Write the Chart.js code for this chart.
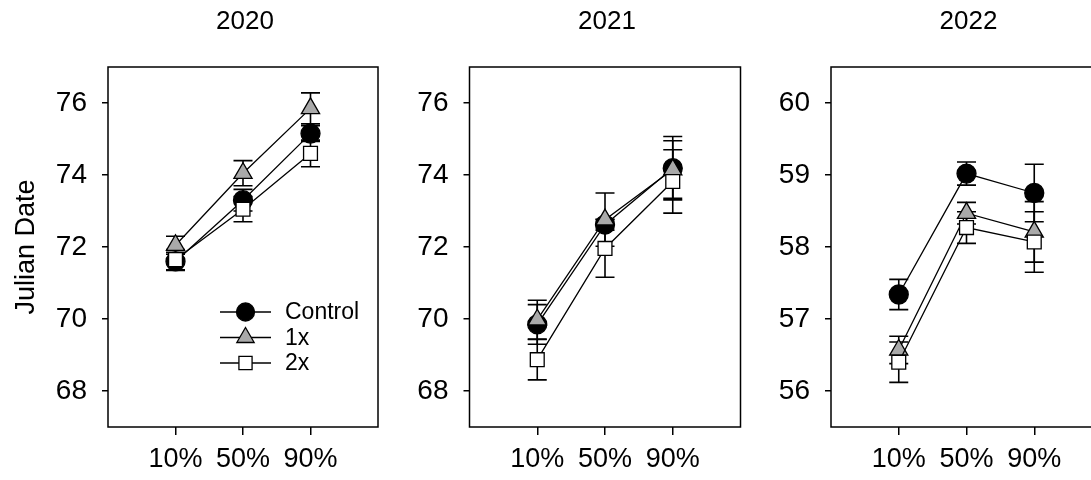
<!DOCTYPE html>
<html><head><meta charset="utf-8">
<script src="https://cdn.jsdelivr.net/npm/chart.js@4.4.1/dist/chart.umd.min.js"></script>
<style>
html,body{margin:0;padding:0;background:#fff;overflow:hidden;width:1091px;height:480px;position:relative}
canvas{position:absolute;left:0;top:0}
</style></head><body>
<canvas id="c1" width="1120" height="480"></canvas>
<canvas id="c2" width="1120" height="480"></canvas>
<canvas id="c3" width="1120" height="480"></canvas>
<script>
// ---------------- data ----------------
const categories = ['10%', '50%', '90%'];
const seriesNames = ['Control', '1x', '2x'];
const years = ['2020', '2021', '2022'];
const yAxisTitle = 'Julian Date';

const ticks2020 = [68, 70, 72, 74, 76];
const ticks2021 = [68, 70, 72, 74, 76];
const ticks2022 = [56, 57, 58, 59, 60];

const control2020 = [71.60, 73.30, 75.15];
const control2020Err = [0.25, 0.30, 0.22];
const onex2020 = [72.05, 74.05, 75.85];
const onex2020Err = [0.25, 0.35, 0.43];
const twox2020 = [71.65, 73.05, 74.60];
const twox2020Err = [0.28, 0.35, 0.37];

const control2021 = [69.85, 72.62, 74.19];
const control2021Err = [0.55, 0.15, 0.88];
const onex2021 = [69.98, 72.76, 74.15];
const onex2021Err = [0.54, 0.74, 0.80];
const twox2021 = [68.87, 71.96, 73.82];
const twox2021Err = [0.56, 0.80, 0.88];

const control2022 = [57.34, 59.02, 58.75];
const control2022Err = [0.21, 0.16, 0.40];
const onex2022 = [56.57, 58.47, 58.21];
const onex2022Err = [0.19, 0.15, 0.42];
const twox2022 = [56.40, 58.27, 58.07];
const twox2022Err = [0.28, 0.22, 0.42];

// ---------------- styles ----------------
const FONT = '"Liberation Sans", Arial, Helvetica, sans-serif';
const styles = [
  {pointStyle: 'circle', radius: 9.5, bg: '#000000', order: 2},
  {pointStyle: 'triangle', radius: 10.5, bg: '#a9a9a9', order: 1},
  {pointStyle: 'rect', radius: 9.8, bg: '#ffffff', order: 0}
];

function makeDatasets(vals, errs) {
  return vals.map((arr, s) => ({
    label: seriesNames[s],
    data: arr.map((v, i) => ({x: i + 1, y: v})),
    errors: errs[s],
    borderColor: '#000',
    borderWidth: 1.3,
    pointStyle: styles[s].pointStyle,
    pointRadius: styles[s].radius,
    pointBackgroundColor: styles[s].bg,
    pointBorderColor: '#000',
    pointBorderWidth: 1.3,
    order: styles[s].order,
    fill: false,
    tension: 0
  }));
}

function drawMarker(ctx, style, r, x, y, bg) {
  ctx.save();
  ctx.beginPath();
  if (style === 'circle') {
    ctx.arc(x, y, r, 0, Math.PI * 2);
  } else if (style === 'triangle') {
    let rad = 0;
    ctx.moveTo(x + Math.sin(rad) * r, y - Math.cos(rad) * r);
    rad += Math.PI * 2 / 3;
    ctx.lineTo(x + Math.sin(rad) * r, y - Math.cos(rad) * r);
    rad += Math.PI * 2 / 3;
    ctx.lineTo(x + Math.sin(rad) * r, y - Math.cos(rad) * r);
    ctx.closePath();
  } else {
    const s = Math.SQRT1_2 * r;
    ctx.rect(x - s, y - s, 2 * s, 2 * s);
  }
  ctx.fillStyle = bg;
  ctx.fill();
  ctx.lineWidth = 1.3;
  ctx.strokeStyle = '#000';
  ctx.stroke();
  ctx.restore();
}

const errorBars = {
  id: 'errorBars',
  beforeDatasetsDraw(chart) {
    const ctx = chart.ctx;
    const ys = chart.scales.y;
    ctx.save();
    ctx.strokeStyle = '#000';
    ctx.lineWidth = 1.6;
    chart.data.datasets.forEach((ds, di) => {
      const meta = chart.getDatasetMeta(di);
      meta.data.forEach((pt, i) => {
        const v = ds.data[i].y, e = ds.errors[i];
        const yt = ys.getPixelForValue(v + e), yb = ys.getPixelForValue(v - e);
        const x = pt.x, cw = 9.5;
        ctx.beginPath();
        ctx.moveTo(x, yt); ctx.lineTo(x, yb);
        ctx.moveTo(x - cw, yt); ctx.lineTo(x + cw, yt);
        ctx.moveTo(x - cw, yb); ctx.lineTo(x + cw, yb);
        ctx.stroke();
      });
    });
    ctx.restore();
  }
};

const frameAndTitle = {
  id: 'frameAndTitle',
  afterDraw(chart, args, opts) {
    const ctx = chart.ctx, a = chart.chartArea;
    ctx.save();
    ctx.strokeStyle = '#000';
    ctx.lineWidth = 1.5;
    ctx.strokeRect(a.left, a.top, a.right - a.left, a.bottom - a.top);
    ctx.fillStyle = '#000';
    ctx.font = '26px ' + FONT;
    ctx.textAlign = 'center';
    ctx.textBaseline = 'middle';
    ctx.fillText(opts.text, (a.left + a.right) / 2 + 2, 22);
    ctx.restore();
  }
};

const legendBox = {
  id: 'legendBox',
  afterDraw(chart, args, opts) {
    if (!opts.show) return;
    const ctx = chart.ctx;
    const rowsY = [312, 337.5, 363];
    ctx.save();
    seriesNames.forEach((name, s) => {
      const y = rowsY[s];
      ctx.strokeStyle = '#000';
      ctx.lineWidth = 1.3;
      ctx.beginPath();
      ctx.moveTo(220, y); ctx.lineTo(271, y);
      ctx.stroke();
      drawMarker(ctx, styles[s].pointStyle, styles[s].radius - 0.5, 245.5, y, styles[s].bg);
      ctx.fillStyle = '#000';
      ctx.font = '23px ' + FONT;
      ctx.textAlign = 'left';
      ctx.textBaseline = 'middle';
      ctx.fillText(name, 285, y + 1);
    });
    ctx.restore();
  }
};

function makeChart(id, year, vals, errs, yMin, yMax, yTicks, area, showYTitle, showLegend) {
  const yWidth = showYTitle ? area.left : 80;
  return new Chart(document.getElementById(id), {
    type: 'line',
    data: {datasets: makeDatasets(vals, errs)},
    options: {
      responsive: false,
      animation: false,
      devicePixelRatio: 1,
      events: [],
      layout: {padding: {left: area.left - yWidth, right: 1120 - area.right, top: 67, bottom: 0}},
      plugins: {
        legend: {display: false},
        tooltip: {enabled: false},
        title: {display: false},
        frameAndTitle: {text: year},
        legendBox: {show: showLegend}
      },
      scales: {
        x: {
          type: 'linear', min: 0, max: 4,
          afterBuildTicks: (sc) => { sc.ticks = categories.map((c, i) => ({value: i + 1})); },
          afterFit: (sc) => { sc.height = 53; },
          ticks: {
            callback: (v) => categories[v - 1],
            font: {family: FONT, size: 27},
            color: '#000', padding: 8, maxRotation: 0, autoSkip: false
          },
          grid: {drawOnChartArea: false, drawTicks: true, tickLength: 8, color: '#000', lineWidth: 1.5},
          border: {display: false}
        },
        y: {
          type: 'linear', min: yMin, max: yMax,
          afterBuildTicks: (sc) => { sc.ticks = yTicks.map(v => ({value: v})); },
          afterFit: (sc) => { sc.width = yWidth; },
          ticks: {
            font: {family: FONT, size: 28},
            color: '#000', padding: 15
          },
          grid: {drawOnChartArea: false, drawTicks: true, tickLength: 6, color: '#000', lineWidth: 1.5},
          border: {display: false},
          title: {
            display: showYTitle, text: yAxisTitle,
            font: {family: FONT, size: 27}, color: '#000',
            padding: {top: 10, bottom: 0}
          }
        }
      }
    },
    plugins: [errorBars, frameAndTitle, legendBox]
  });
}

makeChart('c1', years[0],
  [control2020, onex2020, twox2020], [control2020Err, onex2020Err, twox2020Err],
  67, 77, ticks2020, {left: 108, right: 378}, true, true);
makeChart('c2', years[1],
  [control2021, onex2021, twox2021], [control2021Err, onex2021Err, twox2021Err],
  67, 77, ticks2021, {left: 469.5, right: 740.5}, false, false);
makeChart('c3', years[2],
  [control2022, onex2022, twox2022], [control2022Err, onex2022Err, twox2022Err],
  55.5, 60.5, ticks2022, {left: 831, right: 1102}, false, false);
</script>
</body></html>
